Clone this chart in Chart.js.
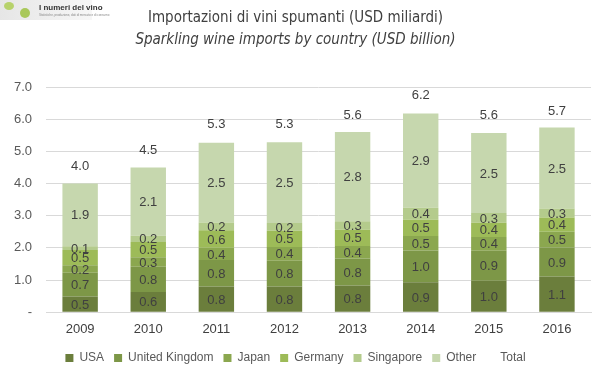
<!DOCTYPE html>
<html>
<head>
<meta charset="utf-8">
<script src="https://cdn.jsdelivr.net/npm/chart.js@4"></script>
<style>
  html, body { margin: 0; padding: 0; background: #fff; }
  #wrap { position: relative; width: 599px; height: 378px; }
  #logo {
    position: absolute; left: 0; top: 0; width: 92px; height: 20px;
    background: linear-gradient(to right, #e6e6e6, #f7f7f7);
    font-family: 'Liberation Sans', Arial, sans-serif;
  }
  #logo .grape { position: absolute; left: 4px; top: 2px; width: 10px; height: 8px; border-radius: 50%; background: #b7d26b; }
  #logo .grape2 { position: absolute; left: 20px; top: 8px; width: 10px; height: 10px; border-radius: 50%; background: #a9c85a; }
  #logo .name { position: absolute; left: 39px; top: 3px; font-size: 8px; font-weight: bold; color: #333; white-space: nowrap; }
  #logo .sub { position: absolute; left: 39px; top: 13px; font-size: 3px; color: #888; white-space: nowrap; }
</style>
</head>
<body>
<div id="wrap">
  <canvas id="chart" width="599" height="378"></canvas>
  <div id="logo"><div class="grape"></div><div class="grape2"></div><div class="name">I numeri del vino</div><div class="sub">Statistiche, produzione, dati di mercato e di consumo</div></div>
</div>
<script>
const anni = ['2009', '2010', '2011', '2012', '2013', '2014', '2015', '2016'];
const usa       = [0.49, 0.63, 0.80, 0.80, 0.83, 0.93, 0.98, 1.11];
const uk        = [0.74, 0.78, 0.82, 0.80, 0.84, 0.99, 0.93, 0.90];
const japan     = [0.23, 0.30, 0.38, 0.43, 0.39, 0.45, 0.43, 0.49];
const germany   = [0.47, 0.47, 0.55, 0.50, 0.50, 0.50, 0.44, 0.44];
const singapore = [0.12, 0.20, 0.24, 0.24, 0.27, 0.38, 0.30, 0.28];
const other     = [1.95, 2.12, 2.48, 2.51, 2.77, 2.93, 2.49, 2.52];
const totali    = [4.0, 4.5, 5.3, 5.3, 5.6, 6.2, 5.6, 5.7];

const FONT = "'Liberation Sans', Arial, sans-serif";
const NARROW = "'Liberation Sans Narrow', 'DejaVu Sans Condensed', sans-serif";
const TESTO = '#404040';

// etichette dentro i segmenti e sopra la barra
const etichette = {
  id: 'etichette',
  afterDatasetsDraw(chart) {
    const ctx = chart.ctx;
    ctx.save();
    ctx.font = '13px ' + FONT;
    ctx.fillStyle = TESTO;
    ctx.textAlign = 'center';
    ctx.textBaseline = 'middle';
    chart.data.datasets.forEach((ds, i) => {
      const meta = chart.getDatasetMeta(i);
      meta.data.forEach((el, j) => {
        const v = ds.data[j];
        if (ds.type === 'line') {
          ctx.fillText(v.toFixed(1), el.x, el.y - 17);
        } else {
          const props = el.getProps(['x', 'y', 'base'], true);
          ctx.fillText(v.toFixed(1), props.x, (props.y + props.base) / 2 + 1);
        }
      });
    });
    ctx.restore();
  }
};

const serie = [
  ['USA', usa, '#6b7e3c'],
  ['United Kingdom', uk, '#7d9747'],
  ['Japan', japan, '#8ba74f'],
  ['Germany', germany, '#9dbb58'],
  ['Singapore', singapore, '#b4cb8c'],
  ['Other', other, '#c6d7ae']
];

const datasets = serie.map(([nome, dati, colore]) => ({
  label: nome,
  data: dati,
  backgroundColor: colore,
  borderWidth: 0,
  barPercentage: 0.52,
  categoryPercentage: 1,
  stack: 'paesi'
}));

datasets.push({
  type: 'line',
  label: 'Total',
  data: totali,
  stack: 'totale',
  showLine: false,
  pointRadius: 0,
  borderColor: 'rgba(0,0,0,0)',
  backgroundColor: 'rgba(0,0,0,0)'
});

new Chart(document.getElementById('chart'), {
  type: 'bar',
  data: { labels: anni, datasets: datasets },
  plugins: [etichette],
  options: {
    responsive: false,
    animation: false,
    layout: { padding: { left: 0, right: 8, top: 4, bottom: 4 } },
    plugins: {
      tooltip: { enabled: false },
      title: {
        display: true,
        text: 'Importazioni di vini spumanti (USD miliardi)',
        color: TESTO,
        font: { family: NARROW, size: 15, weight: 'normal' },
        padding: { top: 5, bottom: 4 }
      },
      subtitle: {
        display: true,
        text: 'Sparkling wine imports by country (USD billion)',
        color: TESTO,
        font: { family: NARROW, size: 15, style: 'italic' },
        padding: { bottom: 38 }
      },
      legend: {
        position: 'bottom',
        // titolo vuoto: solo spazio sopra le voci
        title: { display: true, text: '', font: { size: 3.5 }, padding: 0 },
        labels: {
          color: '#595959',
          font: { family: FONT, size: 12 },
          boxWidth: 8,
          boxHeight: 8,
          padding: 10
        }
      }
    },
    scales: {
      x: {
        stacked: true,
        grid: { display: false },
        border: { color: '#d9d9d9' },
        ticks: { color: TESTO, font: { family: FONT, size: 13 }, padding: 1 }
      },
      y: {
        stacked: true,
        min: 0,
        max: 7,
        grid: { color: '#d9d9d9', drawTicks: false },
        border: { display: false },
        ticks: {
          stepSize: 1,
          color: '#595959',
          font: { family: FONT, size: 13 },
          padding: 14,
          callback: v => v === 0 ? '-' : v.toFixed(1)
        }
      }
    }
  }
});
</script>
</body>
</html>
